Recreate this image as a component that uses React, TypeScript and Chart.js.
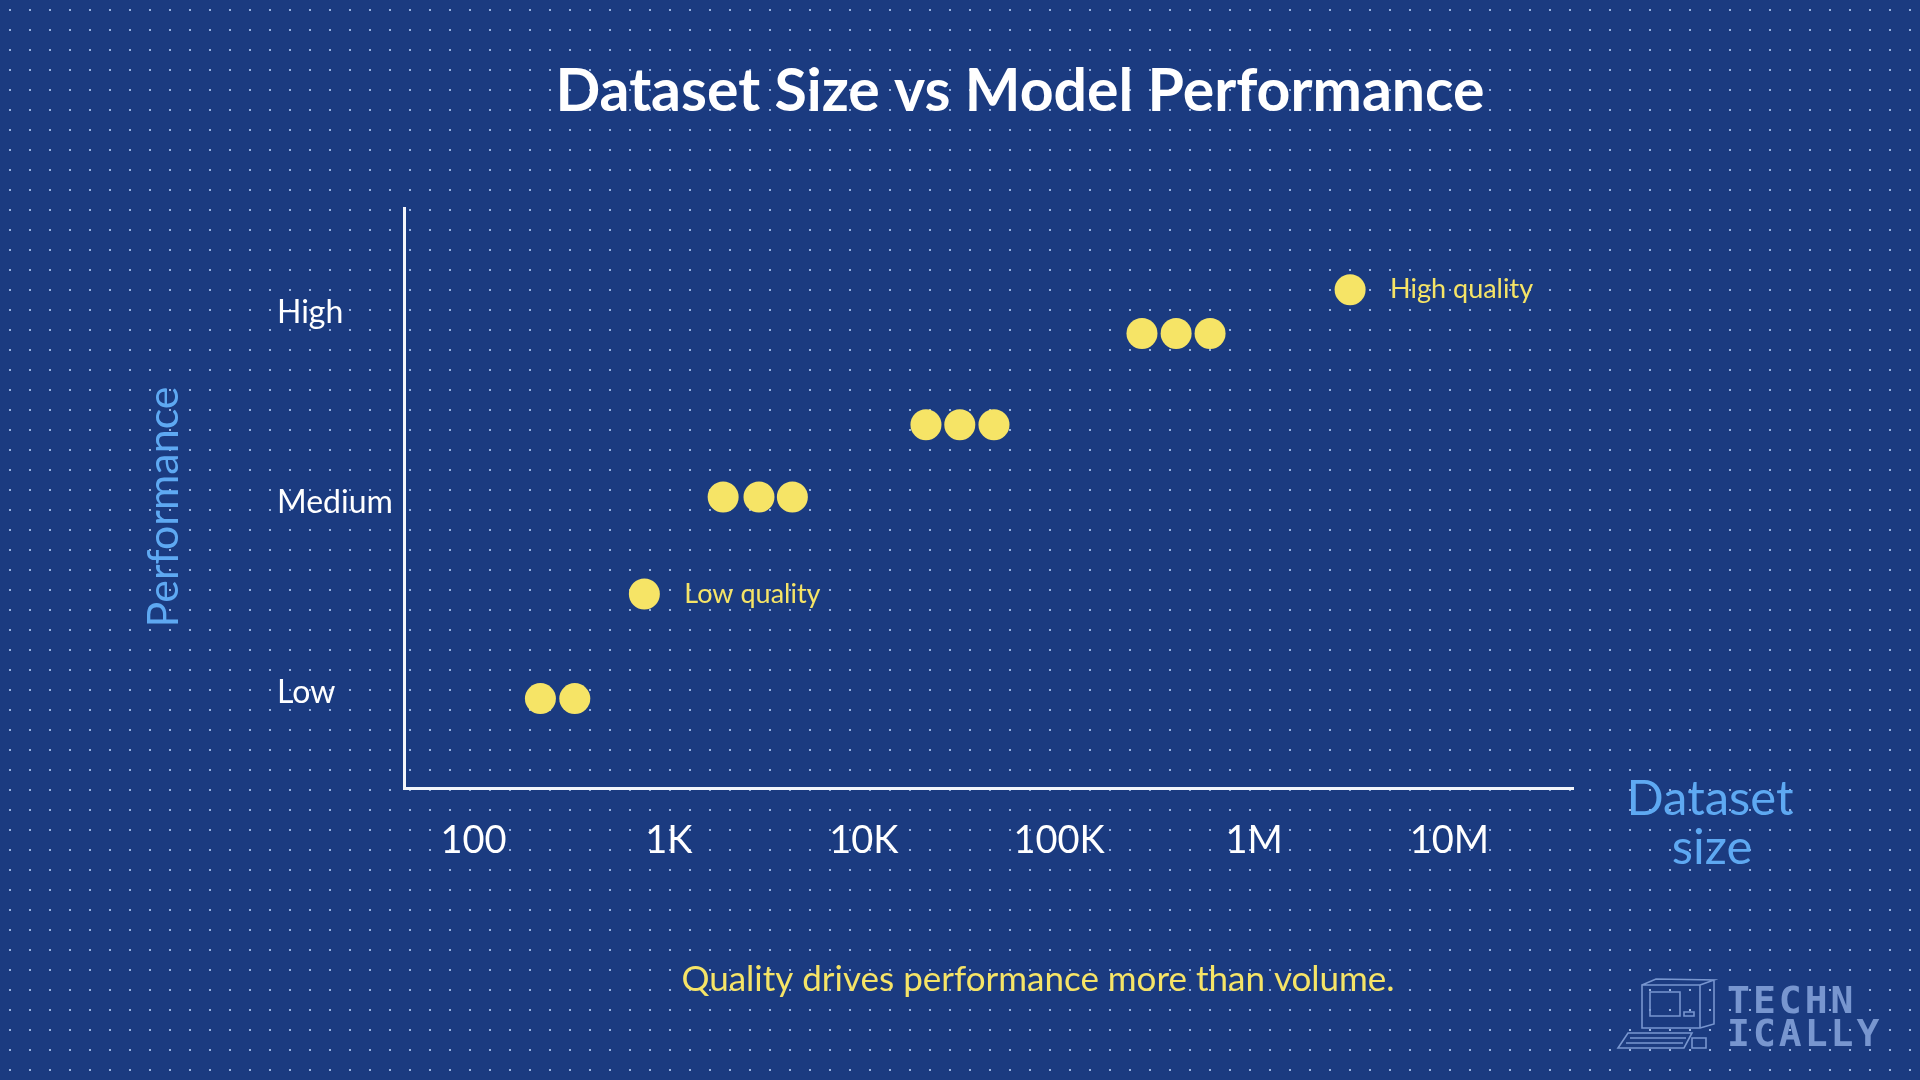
import React, { useEffect, useRef } from 'react';
import { Chart, registerables } from 'chart.js';

Chart.register(...registerables);

// ---- data ----
const xTickValues = [100, 1000, 10000, 100000, 1000000, 10000000];
const xTickLabels = ['100', '1K', '10K', '100K', '1M', '10M'];
const yTickValues = [1, 2, 3];
const yTickLabels = ['Low', 'Medium', 'High'];
const datasetSizes = [220, 330, 750, 1900, 2900, 4300, 20800, 31000, 46400, 266000, 398000, 594000, 3100000];
const performanceLevels = [0.97, 0.97, 1.52, 2.03, 2.03, 2.03, 2.41, 2.41, 2.41, 2.89, 2.89, 2.89, 3.12];
const pointNotes = ['', '', 'Low quality', '', '', '', '', '', '', '', '', '', 'High quality'];

const titleText = 'Dataset Size vs Model Performance';
const subtitleText = 'Quality drives performance more than volume.';
const yAxisTitle = 'Performance';
const xAxisTitleLines = ['Dataset', 'size'];
const logoLines = ['TECHN', 'ICALLY'];

// ---- styles ----
const BG = '#1b3b80';
const DOT = 'rgba(175, 200, 240, 0.85)';
const WHITE = '#ffffff';
const YELLOW = '#f6e466';
const AXIS_BLUE = '#5ea9f2';
const LOGO = '#7896cf';
const FONT = 'Lato, "Noto Sans", sans-serif';

const backgroundPlugin = {
  id: 'dotBackground',
  beforeDraw(chart: any) {
    const { ctx, width, height } = chart;
    ctx.save();
    ctx.fillStyle = BG;
    ctx.fillRect(0, 0, width, height);
    ctx.fillStyle = DOT;
    for (let x = 10; x < width; x += 20) {
      for (let y = 10; y < height; y += 20) {
        ctx.fillRect(x - 1, y - 1, 2, 2);
      }
    }
    ctx.restore();
  },
};

const notesPlugin = {
  id: 'pointNotes',
  afterDatasetsDraw(chart: any) {
    const { ctx } = chart;
    const meta = chart.getDatasetMeta(0);
    ctx.save();
    ctx.fillStyle = YELLOW;
    ctx.font = `27px ${FONT}`;
    ctx.textAlign = 'left';
    ctx.textBaseline = 'middle';
    pointNotes.forEach((note, i) => {
      if (!note) return;
      const el = meta.data[i];
      ctx.fillText(note, el.x + 40, el.y);
    });
    ctx.restore();
  },
};

const textPlugin = {
  id: 'chartTexts',
  afterDraw(chart: any) {
    const { ctx } = chart;
    ctx.save();
    // title
    ctx.fillStyle = WHITE;
    ctx.font = `bold 59px ${FONT}`;
    ctx.textAlign = 'center';
    ctx.textBaseline = 'middle';
    ctx.fillText(titleText, 1020, 92);

    // subtitle
    ctx.fillStyle = YELLOW;
    ctx.font = `35px ${FONT}`;
    ctx.fillText(subtitleText, 1038, 980);

    // x axis title
    ctx.fillStyle = AXIS_BLUE;
    ctx.font = `49px ${FONT}`;
    ctx.textBaseline = 'alphabetic';
    ctx.fillText(xAxisTitleLines[0], 1710, 815);
    ctx.fillText(xAxisTitleLines[1], 1712, 864);

    // y axis title
    ctx.save();
    ctx.translate(178, 507);
    ctx.rotate(-Math.PI / 2);
    ctx.font = `43px ${FONT}`;
    ctx.textAlign = 'center';
    ctx.fillText(yAxisTitle, 0, 0);
    ctx.restore();

    // logo text
    ctx.fillStyle = LOGO;
    ctx.font = `bold 38px "DejaVu Sans Mono", monospace`;
    ctx.textAlign = 'left';
    ctx.textBaseline = 'alphabetic';
    (ctx as any).letterSpacing = '3px';
    ctx.fillText(logoLines[0], 1727, 1013);
    ctx.fillText(logoLines[1], 1727, 1046);
    (ctx as any).letterSpacing = '0px';

    // logo computer outline
    ctx.strokeStyle = LOGO;
    ctx.lineWidth = 1.6;
    ctx.beginPath();
    ctx.rect(1642, 985, 58, 43);
    ctx.rect(1650, 992, 30, 24);
    ctx.moveTo(1642, 985);
    ctx.lineTo(1656, 979);
    ctx.lineTo(1714, 980);
    ctx.lineTo(1700, 985);
    ctx.moveTo(1714, 980);
    ctx.lineTo(1714, 1024);
    ctx.lineTo(1700, 1028);
    ctx.rect(1684, 1012, 10, 4);
    ctx.moveTo(1628, 1033);
    ctx.lineTo(1692, 1033);
    ctx.lineTo(1684, 1048);
    ctx.lineTo(1618, 1048);
    ctx.closePath();
    ctx.moveTo(1630, 1038);
    ctx.lineTo(1686, 1038);
    ctx.moveTo(1626, 1043);
    ctx.lineTo(1683, 1043);
    ctx.rect(1692, 1038, 14, 10);
    ctx.stroke();
    ctx.restore();
  },
};

export default function App() {
  const canvasRef = useRef<HTMLCanvasElement | null>(null);

  useEffect(() => {
    document.body.style.margin = '0';
    document.body.style.background = BG;
    const canvas = canvasRef.current;
    if (!canvas) return;

    const points = datasetSizes.map((x, i) => ({ x, y: performanceLevels[i] }));

    const chart = new Chart(canvas, {
      type: 'scatter',
      data: {
        datasets: [
          {
            data: points,
            pointRadius: 15.5,
            pointHoverRadius: 15.5,
            backgroundColor: YELLOW,
            borderWidth: 0,
          },
        ],
      },
      options: {
        responsive: false,
        animation: false,
        devicePixelRatio: 1,
        events: [],
        layout: { padding: { left: 277, top: 208, right: 347, bottom: 0 } },
        plugins: {
          legend: { display: false },
          title: { display: false },
          tooltip: { enabled: false },
        },
        scales: {
          x: {
            type: 'logarithmic',
            min: 44,
            max: 43000000,
            afterFit(scale: any) {
              scale.height = 292;
            },
            afterBuildTicks(scale: any) {
              scale.ticks = xTickValues.map((v) => ({ value: v }));
            },
            ticks: {
              autoSkip: false,
              maxRotation: 0,
              color: WHITE,
              padding: 30,
              font: { family: FONT, size: 38 },
              callback: (_v: any, index: number) => xTickLabels[index],
            },
            grid: { display: true, drawOnChartArea: false, drawTicks: false },
            border: { display: true, color: '#f3f5fa', width: 3 },
          },
          y: {
            type: 'linear',
            min: 0.5,
            max: 3.55,
            afterFit(scale: any) {
              scale.width = 127;
            },
            afterBuildTicks(scale: any) {
              scale.ticks = yTickValues.map((v) => ({ value: v }));
            },
            ticks: {
              color: WHITE,
              crossAlign: 'far',
              font: { family: FONT, size: 32 },
              callback: (_v: any, index: number) => yTickLabels[index],
            },
            grid: { display: true, drawOnChartArea: false, drawTicks: false },
            border: { display: true, color: '#f3f5fa', width: 3 },
          },
        },
      },
      plugins: [backgroundPlugin, notesPlugin, textPlugin],
    } as any);

    return () => chart.destroy();
  }, []);

  return (
    <canvas
      ref={canvasRef}
      width={1920}
      height={1080}
      style={{ display: 'block', width: 1920, height: 1080 }}
    />
  );
}
